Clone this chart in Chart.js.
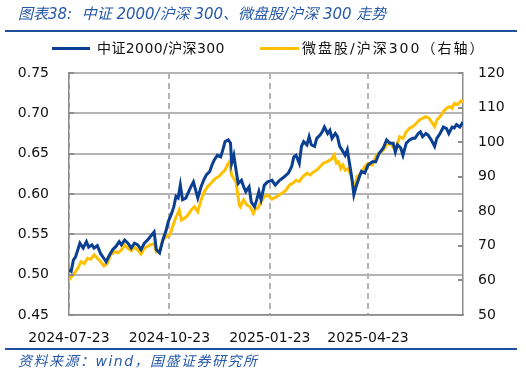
<!DOCTYPE html>
<html>
<head>
<meta charset="utf-8">
<script src="https://cdn.jsdelivr.net/npm/chart.js@4.4.1/dist/chart.umd.min.js"></script>
<style>
  html, body { margin: 0; padding: 0; background: #fff; }
  #wrap { position: relative; width: 526px; height: 374px; overflow: hidden; }
  #c { position: absolute; left: 0; top: 0; }
  .title, .source { position: absolute; left: 18px; font-style: italic; color: #2659a8; white-space: pre;
    font-family: "DejaVu Sans", "Noto Sans CJK SC", sans-serif; }
  .title { top: 4px; font-size: 15px; line-height: 20px; }
  .source { top: 352px; font-size: 14px; line-height: 18px; letter-spacing: 1.5px; }
  .rule { position: absolute; left: 5px; width: 512px; height: 2px; background: #1f4e9b; }
  .lg { position: absolute; top: 39px; height: 18px; line-height: 18px; font-size: 14px; color: #111; white-space: nowrap;
    font-family: "DejaVu Sans", "Noto Sans CJK SC", sans-serif; }
  .sw { position: absolute; top: 47px; height: 3px; }
</style>
</head>
<body>
<div id="wrap">
  <canvas id="c" width="526" height="374"></canvas>
  <div class="title">图表38:  中证 2000/沪深 300、微盘股/沪深 300 走势</div>
  <div class="rule" style="top:30px"></div>
  <div class="sw" style="left:52px;width:38px;background:#0b3f92"></div>
  <div class="lg" style="left:97px;letter-spacing:0.4px">中证2000/沪深300</div>
  <div class="sw" style="left:260px;width:39px;background:#ffc000"></div>
  <div class="lg" style="left:302px;letter-spacing:2px">微盘股/沪深300（右轴）</div>
  <div class="rule" style="top:348px"></div>
  <div class="source">资料来源：wind，国盛证券研究所</div>
</div>
<script>
// x values are calendar days counted from 2024-07-23
const tickDays = [0, 92, 184, 274];
const tickLabels = ['2024-07-23', '2024-10-23', '2025-01-23', '2025-04-23'];

// 中证2000/沪深300 (left axis)
const blueDays = [
  0, 2, 4, 6, 10, 13, 16, 18, 21, 23,
  26, 29, 32, 34, 37, 40, 43, 46, 48, 51,
  54, 57, 60, 63, 66, 69, 72, 75, 78, 80,
  83, 86, 89, 91, 94, 96, 98, 100, 102, 104,
  107, 111, 114, 116, 118, 121, 124, 126, 129, 131,
  133, 136, 139, 141, 143, 146, 148, 149, 151, 153,
  155, 158, 160, 162, 165, 167, 170, 172, 174, 176,
  179, 182, 186, 189, 193, 197, 201, 204, 206, 208,
  211, 213, 215, 218, 220, 222, 225, 227, 230, 232,
  234, 237, 239, 241, 244, 246, 248, 250, 253, 255,
  257, 259, 261, 263, 266, 268, 271, 274, 278, 281,
  284, 288, 291, 294, 297, 299, 301, 304, 306, 309,
  312, 315, 317, 320, 322, 324, 327, 329, 332, 335,
  337, 340, 343, 346, 348, 351, 353, 355, 358, 361
];
const blueValues = [
  0.506, 0.504, 0.518, 0.522, 0.539, 0.533, 0.541, 0.534, 0.537, 0.533,
  0.536, 0.526, 0.520, 0.516, 0.524, 0.531, 0.535, 0.541, 0.537, 0.543,
  0.539, 0.533, 0.539, 0.537, 0.531, 0.539, 0.543, 0.548, 0.553, 0.531,
  0.527, 0.543, 0.555, 0.566, 0.576, 0.584, 0.597, 0.595, 0.611, 0.593,
  0.595, 0.607, 0.615, 0.605, 0.595, 0.609, 0.619, 0.624, 0.628, 0.636,
  0.642, 0.648, 0.646, 0.655, 0.665, 0.667, 0.663, 0.638, 0.648, 0.630,
  0.613, 0.617, 0.609, 0.603, 0.609, 0.590, 0.584, 0.593, 0.603, 0.593,
  0.611, 0.615, 0.617, 0.611, 0.617, 0.621, 0.626, 0.634, 0.646, 0.648,
  0.638, 0.659, 0.665, 0.661, 0.671, 0.661, 0.659, 0.669, 0.673, 0.677,
  0.683, 0.675, 0.679, 0.669, 0.675, 0.671, 0.659, 0.655, 0.648, 0.655,
  0.638, 0.621, 0.599, 0.609, 0.621, 0.628, 0.626, 0.636, 0.640, 0.640,
  0.650, 0.657, 0.667, 0.663, 0.663, 0.652, 0.661, 0.657, 0.648, 0.663,
  0.667, 0.669, 0.669, 0.675, 0.677, 0.671, 0.675, 0.673, 0.667, 0.659,
  0.669, 0.675, 0.683, 0.681, 0.675, 0.683, 0.682, 0.686, 0.683, 0.689
];

// 微盘股/沪深300 (right axis)
const yellowDays = [
  0, 5, 8, 11, 14, 17, 20, 23, 26, 29,
  32, 35, 38, 42, 45, 48, 51, 54, 57, 60,
  63, 66, 69, 74, 78, 80, 83, 86, 89, 92,
  94, 97, 99, 101, 103, 106, 109, 112, 115, 118,
  121, 124, 127, 130, 134, 137, 140, 143, 145, 147,
  149, 151, 153, 156, 157, 160, 163, 166, 169, 171,
  173, 176, 179, 182, 186, 190, 195, 199, 202, 205,
  208, 211, 214, 218, 221, 224, 227, 230, 233, 236,
  239, 241, 243, 245, 247, 249, 251, 253, 256, 258,
  260, 262, 264, 266, 269, 271, 274, 278, 281, 284,
  288, 291, 294, 297, 299, 301, 303, 306, 309, 312,
  315, 318, 321, 324, 327, 330, 333, 335, 337, 340,
  343, 346, 349, 351, 353, 356, 359, 361
];
const yellowValues = [
  60.1, 62.1, 63.5, 65.4, 64.9, 66.4, 66.1, 67.4, 66.4, 65.4,
  64.2, 64.9, 67.4, 68.3, 68.0, 68.8, 70.2, 69.3, 68.6, 69.6,
  68.8, 67.6, 69.3, 70.2, 70.7, 68.3, 68.6, 71.7, 72.6, 73.1,
  74.6, 77.5, 78.9, 80.4, 77.5, 78.0, 78.9, 80.4, 81.3, 79.9,
  83.3, 85.7, 87.1, 88.1, 89.5, 90.0, 91.0, 91.9, 93.4, 94.3,
  90.5, 89.5, 88.6, 81.8, 81.3, 83.3, 81.8, 81.3, 79.4, 80.9,
  80.9, 82.8, 84.2, 84.7, 83.5, 84.2, 85.2, 86.2, 87.6, 88.1,
  89.0, 88.6, 90.0, 91.0, 90.5, 91.4, 91.9, 92.9, 93.9, 94.3,
  94.8, 95.3, 96.3, 93.9, 94.3, 92.4, 93.4, 91.9, 92.4, 90.5,
  88.6, 87.1, 90.0, 90.5, 91.9, 92.9, 93.9, 93.4, 95.8, 96.8,
  97.7, 99.2, 99.7, 98.7, 97.7, 99.7, 101.6, 101.1, 103.0, 104.0,
  104.5, 105.4, 106.4, 106.9, 107.4, 106.9, 105.4, 104.5, 106.4, 107.4,
  108.8, 109.8, 110.3, 109.8, 111.2, 110.9, 111.9, 111.7
];

const axisColor = '#8c8c8c';
const gridColor = '#b4b4b4';
const tickFont = { family: 'DejaVu Sans', size: 14 };

// short inward tick marks on both value axes
const innerTicks = {
  id: 'innerTicks',
  afterDraw(chart) {
    const c = chart.ctx;
    const a = chart.chartArea;
    c.save();
    c.fillStyle = axisColor;
    chart.scales.y.ticks.forEach(t => {
      c.fillRect(a.left, Math.round(chart.scales.y.getPixelForValue(t.value)) - 1, 5, 2);
    });
    chart.scales.y1.ticks.forEach(t => {
      c.fillRect(a.right - 5, Math.round(chart.scales.y1.getPixelForValue(t.value)) - 1, 5, 2);
    });
    c.restore();
  }
};

const ctx = document.getElementById('c');

new Chart(ctx, {
  type: 'line',
  data: {
    datasets: [
      {
        label: '中证2000/沪深300',
        data: blueDays.map((d, i) => ({ x: d, y: blueValues[i] })),
        borderColor: '#0b3f92',
        borderWidth: 3,
        pointRadius: 0,
        tension: 0,
        fill: false,
        yAxisID: 'y'
      },
      {
        label: '微盘股/沪深300（右轴）',
        data: yellowDays.map((d, i) => ({ x: d, y: yellowValues[i] })),
        borderColor: '#ffc000',
        borderWidth: 3,
        pointRadius: 0,
        tension: 0,
        fill: false,
        yAxisID: 'y1'
      }
    ]
  },
  options: {
    responsive: false,
    animation: false,
    events: [],
    layout: { padding: { top: 73, left: 0, right: 0, bottom: 0 } },
    plugins: {
      legend: { display: false },
      tooltip: { enabled: false }
    },
    scales: {
      x: {
        type: 'linear',
        min: 0,
        max: 361,
        afterBuildTicks: scale => { scale.ticks = tickDays.map(v => ({ value: v })); },
        afterFit: scale => { scale.height = 59; },
        ticks: {
          callback: v => tickLabels[tickDays.indexOf(v)] || '',
          autoSkip: false,
          maxRotation: 0,
          minRotation: 0,
          padding: 15,
          color: '#111',
          font: tickFont
        },
        grid: { color: gridColor, lineWidth: 2, drawTicks: false },
        border: { display: true, color: axisColor, width: 1.5, dash: [6, 4] }
      },
      y: {
        position: 'left',
        min: 0.45,
        max: 0.75,
        afterFit: scale => { scale.width = 69; },
        ticks: {
          stepSize: 0.05,
          callback: v => v.toFixed(2),
          padding: 20,
          color: '#111',
          font: tickFont
        },
        grid: { color: gridColor, lineWidth: 2, drawTicks: false },
        border: { display: true, color: axisColor, width: 1.5 }
      },
      y1: {
        position: 'right',
        min: 50,
        max: 120,
        afterFit: scale => { scale.width = 63; },
        ticks: {
          stepSize: 10,
          padding: 15,
          color: '#111',
          font: tickFont
        },
        grid: { drawOnChartArea: false, drawTicks: false },
        border: { display: true, color: axisColor, width: 1.5 }
      }
    }
  },
  plugins: [innerTicks]
});
</script>
</body>
</html>
